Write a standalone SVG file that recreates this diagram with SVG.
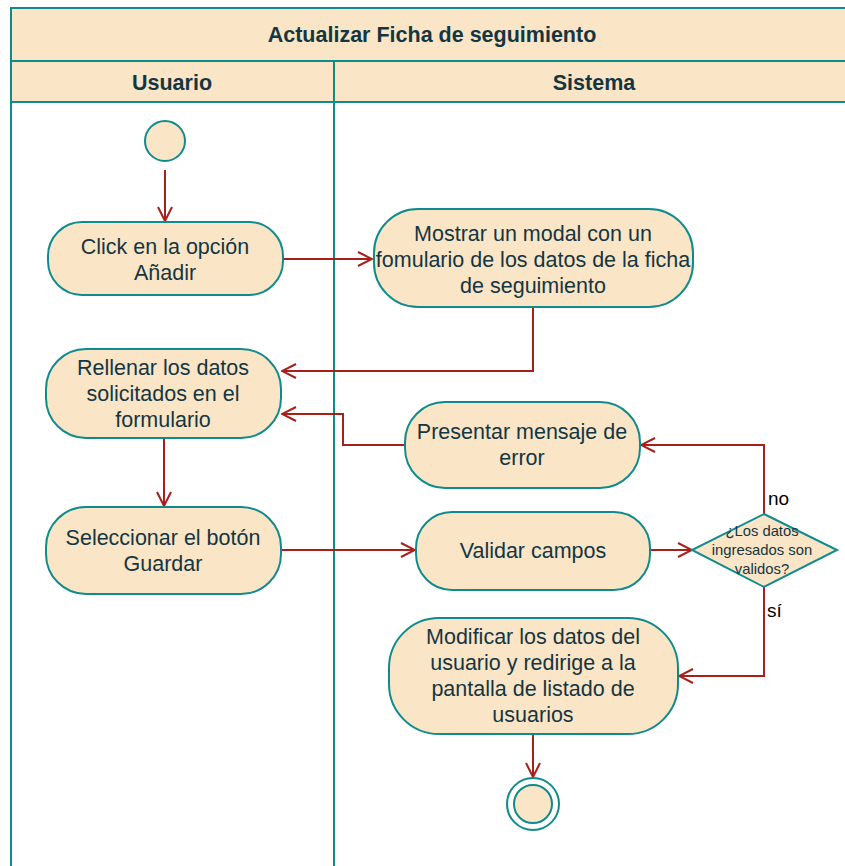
<svg xmlns="http://www.w3.org/2000/svg" width="845" height="866" viewBox="0 0 845 866">
  <style>
    .lane { fill: none; stroke: #0F8B8D; stroke-width: 2; }
    .band { fill: #FAE5C7; stroke: #0F8B8D; stroke-width: 2; }
    .node { fill: #FAE5C7; stroke: #0F8B8D; stroke-width: 2; }
    .head { font-family: "Liberation Sans", Arial, sans-serif; font-weight: bold; font-size: 21.5px; fill: #143642; text-anchor: middle; }
    .txt { font-family: "Liberation Sans", Arial, sans-serif; font-size: 21.5px; fill: #143642; text-anchor: middle; }
    .small { font-family: "Liberation Sans", Arial, sans-serif; font-size: 14.8px; fill: #143642; text-anchor: middle; }
    .lbl { font-family: "Liberation Sans", Arial, sans-serif; font-size: 19px; fill: #000000; }
    .edge { fill: none; stroke: #A8201A; stroke-width: 2; marker-end: url(#open); }
  </style>
  <defs>
    <marker id="open" viewBox="0 0 16 16" refX="15" refY="8" markerWidth="16" markerHeight="16" markerUnits="userSpaceOnUse" orient="auto">
      <path d="M1,1 L15,8 L1,15" fill="none" stroke="#A8201A" stroke-width="2"/>
    </marker>
  </defs>
  <rect width="845" height="866" fill="#ffffff"/>

  <!-- swimlane frame -->
  <g id="pool">
    <rect class="band" x="11" y="8" width="850" height="53"/>
    <rect class="band" x="11" y="61" width="850" height="41"/>
    <line class="lane" x1="11" y1="102" x2="11" y2="870"/>
    <line class="lane" x1="334" y1="61" x2="334" y2="870"/>
    <text class="head" x="432" y="42">Actualizar Ficha de seguimiento</text>
    <text class="head" x="172" y="90">Usuario</text>
    <text class="head" x="594" y="90">Sistema</text>
  </g>

  <!-- connectors -->
  <g id="edges">
    <path class="edge" d="M165,170 L165,221"/>
    <path class="edge" d="M283,259 L372,259"/>
    <path class="edge" d="M533,307 L533,371 L282,371"/>
    <path class="edge" d="M164,438 L164,506"/>
    <path class="edge" d="M281,550 L415,550"/>
    <path class="edge" d="M650,550 L692,550"/>
    <path class="edge" d="M764,514 L764,445 L641,445"/>
    <path class="edge" d="M405,445 L343,445 L343,414 L282,414"/>
    <path class="edge" d="M764,587 L764,676 L679,676"/>
    <path class="edge" d="M533,734 L533,777"/>
    <text class="lbl" x="768" y="505">no</text>
    <text class="lbl" x="767" y="617">sí</text>
  </g>

  <g id="start">
    <circle class="node" cx="165" cy="141" r="20"/>
  </g>

  <g id="click-anadir">
    <rect class="node" x="48" y="222" width="235" height="73" rx="34"/>
    <text class="txt" x="165" y="254">Click en la opción</text>
    <text class="txt" x="165" y="280">Añadir</text>
  </g>

  <g id="mostrar-modal">
    <rect class="node" x="374" y="209" width="319" height="98" rx="44"/>
    <text class="txt" x="533" y="241">Mostrar un modal con un</text>
    <text class="txt" x="533" y="267">fomulario de los datos de la ficha</text>
    <text class="txt" x="533" y="293">de seguimiento</text>
  </g>

  <g id="rellenar-datos">
    <rect class="node" x="46" y="349" width="235" height="89" rx="40"/>
    <text class="txt" x="163" y="375">Rellenar los datos</text>
    <text class="txt" x="163" y="401">solicitados en el</text>
    <text class="txt" x="163" y="427">formulario</text>
  </g>

  <g id="presentar-error">
    <rect class="node" x="405" y="402" width="235" height="86" rx="40"/>
    <text class="txt" x="522" y="439">Presentar mensaje de</text>
    <text class="txt" x="522" y="465">error</text>
  </g>

  <g id="seleccionar-guardar">
    <rect class="node" x="46" y="507" width="235" height="87" rx="40"/>
    <text class="txt" x="163" y="545">Seleccionar el botón</text>
    <text class="txt" x="163" y="571">Guardar</text>
  </g>

  <g id="validar-campos">
    <rect class="node" x="416" y="512" width="234" height="78" rx="36"/>
    <text class="txt" x="533" y="558">Validar campos</text>
  </g>

  <g id="decision-validos">
    <polygon class="node" points="764,514 837,550 764,587 692,550"/>
    <text class="small" x="762" y="536">¿Los datos</text>
    <text class="small" x="762" y="555">ingresados son</text>
    <text class="small" x="762" y="574">validos?</text>
  </g>

  <g id="modificar-datos">
    <rect class="node" x="389" y="618" width="289" height="116" rx="50"/>
    <text class="txt" x="533" y="644">Modificar los datos del</text>
    <text class="txt" x="533" y="670">usuario y redirige a la</text>
    <text class="txt" x="533" y="696">pantalla de listado de</text>
    <text class="txt" x="533" y="722">usuarios</text>
  </g>

  <g id="end">
    <circle cx="533" cy="804" r="26" fill="#ffffff" stroke="#0F8B8D" stroke-width="2"/>
    <circle class="node" cx="533" cy="804" r="19"/>
  </g>
</svg>
